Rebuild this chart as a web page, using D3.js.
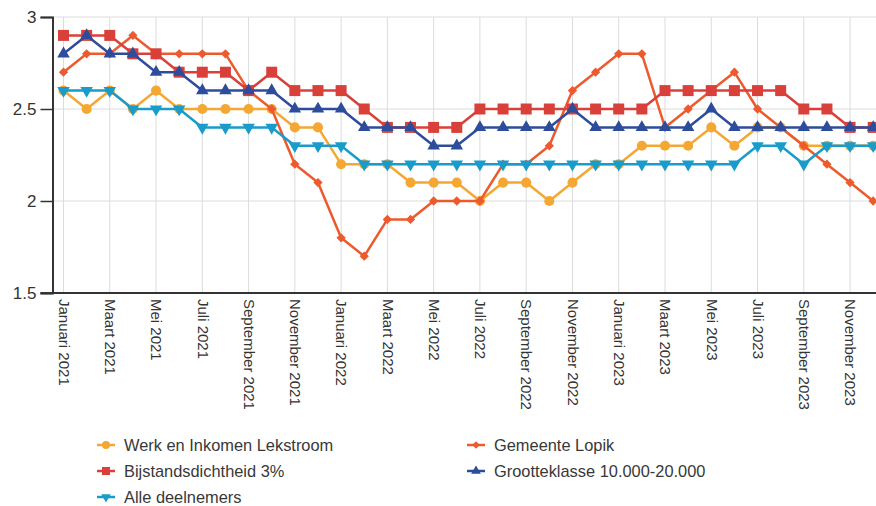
<!DOCTYPE html>
<html>
<head>
<meta charset="utf-8">
<script src="https://cdn.jsdelivr.net/npm/d3@7"></script>
<style>
  html, body { margin: 0; padding: 0; background: #fff; }
  svg { display: block; font-family: "Liberation Sans", Arial, sans-serif; }
</style>
</head>
<body>
<svg id="chart" width="876" height="506"></svg>
<script>
const months = [
  "Januari 2021","Februari 2021","Maart 2021","April 2021","Mei 2021","Juni 2021",
  "Juli 2021","Augustus 2021","September 2021","Oktober 2021","November 2021","December 2021",
  "Januari 2022","Februari 2022","Maart 2022","April 2022","Mei 2022","Juni 2022",
  "Juli 2022","Augustus 2022","September 2022","Oktober 2022","November 2022","December 2022",
  "Januari 2023","Februari 2023","Maart 2023","April 2023","Mei 2023","Juni 2023",
  "Juli 2023","Augustus 2023","September 2023","Oktober 2023","November 2023","December 2023"
];
const xTickLabels = months.filter((m, i) => i % 2 === 0);
const yTicks = [1.5, 2, 2.5, 3];
const yTickLabels = ["1.5", "2", "2.5", "3"];

const werkLekstroom = [2.6,2.5,2.6,2.5,2.6,2.5,2.5,2.5,2.5,2.5,2.4,2.4,2.2,2.2,2.2,2.1,2.1,2.1,2.0,2.1,2.1,2.0,2.1,2.2,2.2,2.3,2.3,2.3,2.4,2.3,2.4,2.4,2.3,2.3,2.3,2.3];
const gemeenteLopik = [2.7,2.8,2.8,2.9,2.8,2.8,2.8,2.8,2.6,2.5,2.2,2.1,1.8,1.7,1.9,1.9,2.0,2.0,2.0,2.2,2.2,2.3,2.6,2.7,2.8,2.8,2.4,2.5,2.6,2.7,2.5,2.4,2.3,2.2,2.1,2.0];
const bijstand3 = [2.9,2.9,2.9,2.8,2.8,2.7,2.7,2.7,2.6,2.7,2.6,2.6,2.6,2.5,2.4,2.4,2.4,2.4,2.5,2.5,2.5,2.5,2.5,2.5,2.5,2.5,2.6,2.6,2.6,2.6,2.6,2.6,2.5,2.5,2.4,2.4];
const grootteklasse = [2.8,2.9,2.8,2.8,2.7,2.7,2.6,2.6,2.6,2.6,2.5,2.5,2.5,2.4,2.4,2.4,2.3,2.3,2.4,2.4,2.4,2.4,2.5,2.4,2.4,2.4,2.4,2.4,2.5,2.4,2.4,2.4,2.4,2.4,2.4,2.4];
const alleDeelnemers = [2.6,2.6,2.6,2.5,2.5,2.5,2.4,2.4,2.4,2.4,2.3,2.3,2.3,2.2,2.2,2.2,2.2,2.2,2.2,2.2,2.2,2.2,2.2,2.2,2.2,2.2,2.2,2.2,2.2,2.2,2.3,2.3,2.2,2.3,2.3,2.3];

const seriesNames = ["Werk en Inkomen Lekstroom","Gemeente Lopik","Bijstandsdichtheid 3%","Grootteklasse 10.000-20.000","Alle deelnemers"];

const series = [
  { name: seriesNames[0], values: werkLekstroom, color: "#F5A733", sym: d3.symbolCircle, size: 80, legSize: 50, rot: 0 },
  { name: seriesNames[1], values: gemeenteLopik, color: "#EC5A2E", sym: d3.symbolDiamond2, size: 55, legSize: 35, rot: 0 },
  { name: seriesNames[2], values: bijstand3, color: "#D9403A", sym: d3.symbolSquare, size: 121, legSize: 64, rot: 0 },
  { name: seriesNames[3], values: grootteklasse, color: "#2D4C9B", sym: d3.symbolTriangle, size: 68, legSize: 40, rot: 0 },
  { name: seriesNames[4], values: alleDeelnemers, color: "#1A9CCB", sym: d3.symbolTriangle, size: 68, legSize: 40, rot: 180 }
];

const W = 876, H = 506;
const svg = d3.select("#chart");

const x = d3.scalePoint().domain(months).range([63.5, 873.2]);
const y = d3.scaleLinear().domain([1.5, 3]).range([293, 17]);
const left = 52.5;

// grid
const grid = svg.append("g");
grid.selectAll("line.h").data(yTicks.filter(v => v > 1.5)).join("line")
  .attr("x1", left).attr("x2", W + 20)
  .attr("y1", d => y(d)).attr("y2", d => y(d))
  .attr("stroke", "#dcdcdc").attr("stroke-width", 1);
grid.selectAll("line.v").data(xTickLabels).join("line")
  .attr("x1", d => x(d)).attr("x2", d => x(d))
  .attr("y1", y(3)).attr("y2", y(1.5))
  .attr("stroke", "#dcdcdc").attr("stroke-width", 1);

// y axis
const yAxis = d3.axisLeft(y).tickValues(yTicks).tickSize(12).tickPadding(4)
  .tickFormat((d, i) => yTickLabels[i]);
const gy = svg.append("g").attr("transform", `translate(${left},0)`).call(yAxis);
gy.select(".domain").attr("stroke", "#333").attr("stroke-width", 2);
gy.selectAll(".tick line").attr("stroke", "#333").attr("stroke-width", 1.5);
gy.selectAll(".tick text").attr("font-size", 17).attr("fill", "#333")
  .attr("font-family", "'Liberation Sans', Arial, sans-serif");

// x axis
const xAxis = d3.axisBottom(x).tickValues(xTickLabels).tickSize(0).tickPadding(0);
const gx = svg.append("g").attr("transform", `translate(0,${y(1.5)})`).call(xAxis);
gx.select(".domain").remove();
gx.selectAll(".tick text")
  .attr("font-size", 15).attr("fill", "#333")
  .attr("font-family", "'Liberation Sans', Arial, sans-serif")
  .attr("text-anchor", "start")
  .attr("transform", "rotate(90)")
  .attr("x", 6).attr("y", 0).attr("dy", "0.35em");
svg.append("line")
  .attr("x1", left - 12).attr("x2", W + 20)
  .attr("y1", y(1.5)).attr("y2", y(1.5))
  .attr("stroke", "#333").attr("stroke-width", 2);

// series
const line = d3.line().x((d, i) => x(months[i])).y(d => y(d));
series.forEach(s => {
  const g = svg.append("g");
  g.append("path").datum(s.values)
    .attr("d", line).attr("fill", "none")
    .attr("stroke", s.color).attr("stroke-width", 2.5).attr("stroke-linejoin", "round");
  g.selectAll("path.m").data(s.values).join("path")
    .attr("class", "m")
    .attr("d", d3.symbol().type(s.sym).size(s.size))
    .attr("transform", (d, i) => `translate(${x(months[i])},${y(d)}) rotate(${s.rot})`)
    .attr("fill", s.color);
});

// legend
const legendPos = [
  { x: 106, y: 445 }, { x: 476, y: 445 },
  { x: 106, y: 471 }, { x: 476, y: 471 },
  { x: 106, y: 497 }
];
series.forEach((s, i) => {
  const p = legendPos[i];
  const g = svg.append("g").attr("transform", `translate(${p.x},${p.y})`);
  g.append("line").attr("x1", -9).attr("x2", 9).attr("y1", 0).attr("y2", 0)
    .attr("stroke", s.color).attr("stroke-width", 2.5);
  g.append("path").attr("d", d3.symbol().type(s.sym).size(s.legSize)())
    .attr("transform", `rotate(${s.rot})`).attr("fill", s.color);
  g.append("text").attr("x", 18).attr("y", 0).attr("dy", "0.35em")
    .attr("font-size", 16.4).attr("fill", "#383838").text(s.name);
});
</script>
</body>
</html>
